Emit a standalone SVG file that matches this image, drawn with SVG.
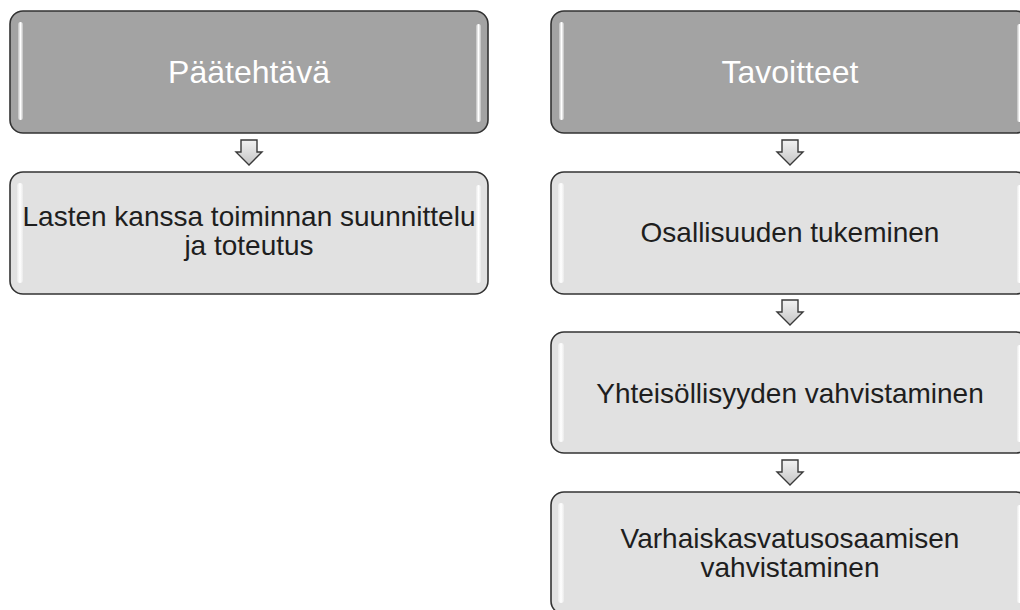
<svg xmlns="http://www.w3.org/2000/svg" width="1020" height="610" viewBox="0 0 1020 610">
<defs>
<linearGradient id="arrowFill" x1="0" y1="0" x2="0" y2="1">
<stop offset="0" stop-color="#f2f2f2"/>
<stop offset="1" stop-color="#c4c4c4"/>
</linearGradient>
<linearGradient id="hl" x1="0" y1="0" x2="1" y2="0">
<stop offset="0" stop-color="#ffffff" stop-opacity="0.3"/>
<stop offset="0.5" stop-color="#ffffff" stop-opacity="1"/>
<stop offset="1" stop-color="#ffffff" stop-opacity="0.3"/>
</linearGradient>
<path id="arr" d="M-8,-12 L8,-12 L8,0 L13,0 L0,13 L-13,0 L-8,0 Z"/>
</defs>
<style>
.dark{fill:#a3a3a3;stroke:#333333;stroke-width:1.6}
.light{fill:#e1e1e1;stroke:#333333;stroke-width:1.6}
.hl{fill:url(#hl)}
.arrow{fill:url(#arrowFill);stroke:#3a3a3a;stroke-width:1.4;stroke-linejoin:miter}
.tw{font-family:"Liberation Sans",Arial,sans-serif;font-size:32px;fill:#ffffff;text-anchor:middle}
.tb{font-family:"Liberation Sans",Arial,sans-serif;font-size:28px;fill:#1e1e1e;text-anchor:middle}
</style>
<rect width="1020" height="610" fill="#ffffff"/>
<g id="connectors">
<use href="#arr" class="arrow" transform="translate(249,152)"/>
<use href="#arr" class="arrow" transform="translate(790,152)"/>
<use href="#arr" class="arrow" transform="translate(790,312)"/>
<use href="#arr" class="arrow" transform="translate(790,472)"/>
</g>
<g id="paatehtava">
<rect class="dark" x="10" y="11" width="478" height="122" rx="13"/>
<rect class="hl" x="18" y="22" width="5" height="98" rx="2.5"/>
<rect class="hl" x="476" y="24" width="5" height="98" rx="2.5"/>
<text class="tw" x="249" y="83">Päätehtävä</text>
</g>
<g id="lasten">
<rect class="light" x="10" y="172" width="478" height="122" rx="13"/>
<rect class="hl" x="17" y="183" width="6" height="100" rx="3"/>
<rect class="hl" x="476" y="185" width="5" height="98" rx="2.5"/>
<text class="tb" x="249" y="226">Lasten kanssa toiminnan suunnittelu</text>
<text class="tb" x="249" y="255">ja toteutus</text>
</g>
<g id="tavoitteet">
<rect class="dark" x="551" y="11" width="478" height="122" rx="13"/>
<rect class="hl" x="559" y="22" width="5" height="98" rx="2.5"/>
<rect class="hl" x="1017" y="24" width="5" height="98" rx="2.5"/>
<text class="tw" x="790" y="83">Tavoitteet</text>
</g>
<g id="osallisuus">
<rect class="light" x="551" y="172" width="478" height="122" rx="13"/>
<rect class="hl" x="558" y="183" width="6" height="100" rx="3"/>
<rect class="hl" x="1017" y="185" width="5" height="98" rx="2.5"/>
<text class="tb" x="790" y="242">Osallisuuden tukeminen</text>
</g>
<g id="yhteisollisyys">
<rect class="light" x="551" y="332" width="478" height="121" rx="13"/>
<rect class="hl" x="558" y="343" width="6" height="99" rx="3"/>
<rect class="hl" x="1017" y="345" width="5" height="97" rx="2.5"/>
<text class="tb" x="790" y="403">Yhteisöllisyyden vahvistaminen</text>
</g>
<g id="varhaiskasvatus">
<rect class="light" x="551" y="492" width="478" height="122" rx="13"/>
<rect class="hl" x="558" y="503" width="6" height="100" rx="3"/>
<rect class="hl" x="1017" y="505" width="5" height="98" rx="2.5"/>
<text class="tb" x="790" y="548">Varhaiskasvatusosaamisen</text>
<text class="tb" x="790" y="577">vahvistaminen</text>
</g>
</svg>
